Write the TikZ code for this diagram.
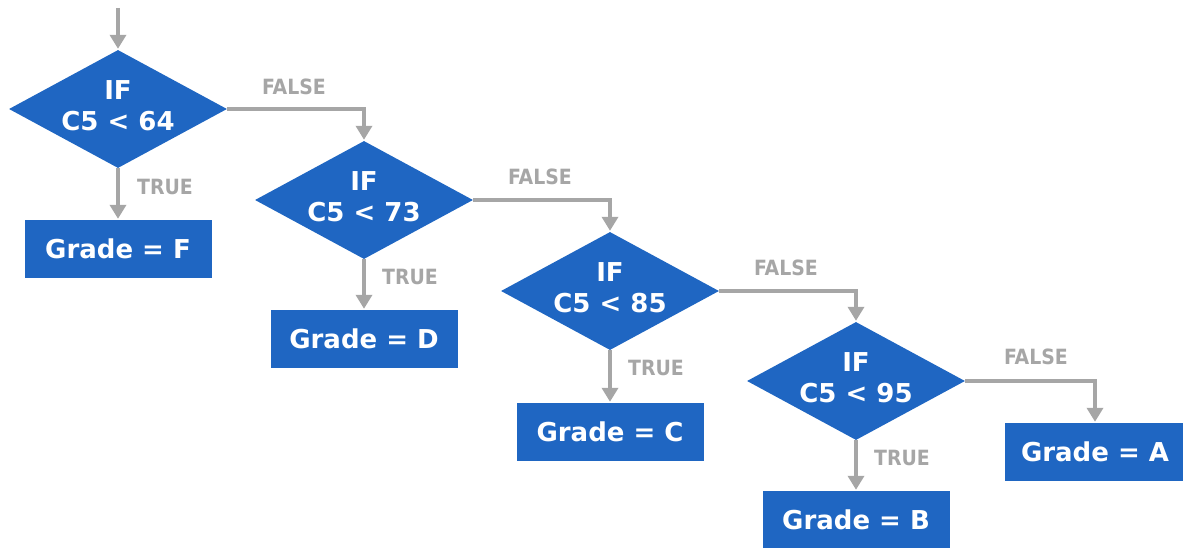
\documentclass[tikz,border=0pt]{standalone}
\usepackage{fontspec}
\setmainfont{DejaVu Sans}
\newfontfamily\lblfont{DejaVu Sans Condensed}
\usetikzlibrary{shapes.geometric,arrows.meta}
\definecolor{flowblue}{RGB}{31,102,194}
\definecolor{flowgray}{RGB}{166,166,166}
\tikzset{
  decision/.style={diamond, fill=flowblue, inner sep=0pt,
    minimum width=218pt, minimum height=118pt},
  dtext/.style={text=white, align=center, inner sep=0pt,
    font=\fontsize{26}{31}\selectfont\bfseries},
  gradebox/.style={rectangle, fill=flowblue, text=white, inner sep=0pt,
    minimum width=187pt, minimum height=58pt,
    font=\fontsize{26}{30}\selectfont\bfseries},
  flow/.style={draw=flowgray, line width=3.6pt,
    -{Triangle[width=16pt,length=14pt]}, shorten >=1pt},
  lbl/.style={text=flowgray, font=\lblfont\bfseries\fontsize{21}{24}\selectfont}
}
\begin{document}
\begin{tikzpicture}[x=1pt,y=-1pt]
\useasboundingbox (0,0) rectangle (1183,548);
\coordinate (start) at (118,8);
\node[decision] (d1) at (118,109) {};
\node[decision] (d2) at (364,200) {};
\node[decision] (d3) at (610,291) {};
\node[decision] (d4) at (856,381) {};
\node[dtext] (d1t) at (118,106) {IF\\C5 < 64};
\node[dtext] (d2t) at (364,197) {IF\\C5 < 73};
\node[dtext] (d3t) at (610,288) {IF\\C5 < 85};
\node[dtext] (d4t) at (856,378) {IF\\C5 < 95};
\node[gradebox] (gf) at (118,249) {Grade = F};
\node[gradebox] (gd) at (364,339) {Grade = D};
\node[gradebox] (gc) at (610,432) {Grade = C};
\node[gradebox] (gb) at (856,520) {Grade = B};
\node[gradebox, minimum width=180pt] (ga) at (1095,452) {Grade = A};

\draw[flow] (start) -- (d1.north);
\draw[flow] (d1.south) -- (gf.north);
\draw[flow] (d2.south) -- (gd.north);
\draw[flow] (d3.south) -- (gc.north);
\draw[flow] (d4.south) -- (gb.north);
\draw[flow] (d1.east) -| (d2.north);
\draw[flow] (d2.east) -| (d3.north);
\draw[flow] (d3.east) -| (d4.north);
\draw[flow] (d4.east) -| (ga.north);

\node[lbl] (f1) at (294,87) {FALSE};
\node[lbl] (f2) at (540,177) {FALSE};
\node[lbl] (f3) at (786,268) {FALSE};
\node[lbl] (f4) at (1036,357) {FALSE};
\node[lbl] (t1) at (165,187) {TRUE};
\node[lbl] (t2) at (410,277) {TRUE};
\node[lbl] (t3) at (656,368) {TRUE};
\node[lbl] (t4) at (902,458) {TRUE};
\end{tikzpicture}
\end{document}
